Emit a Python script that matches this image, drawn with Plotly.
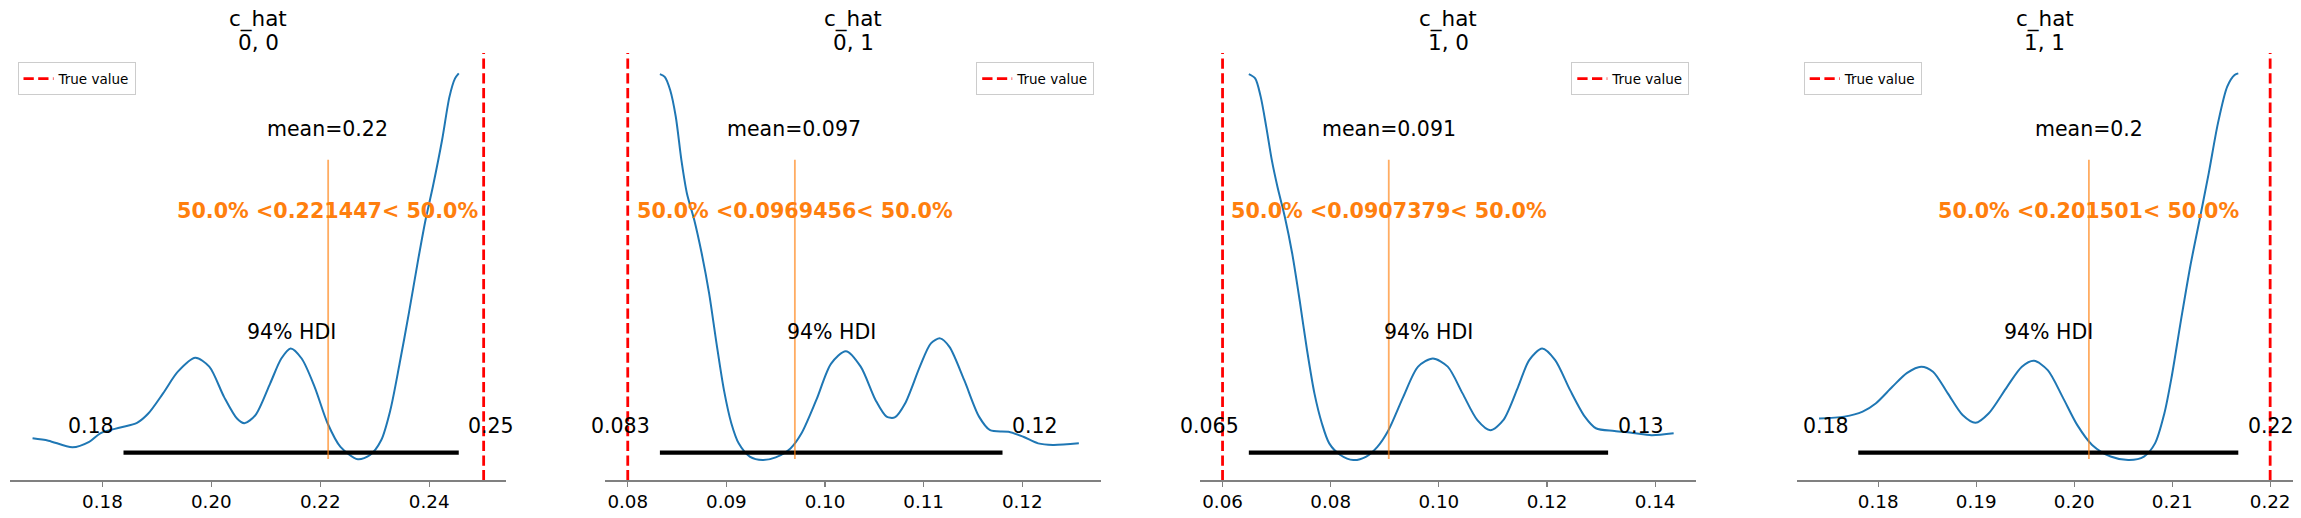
import plotly.graph_objects as go

W, H = 2301, 518
FONT = "DejaVu Sans"

# ---------------- data ----------------
var_name = "c_hat"
coords = ["0, 0", "0, 1", "1, 0", "1, 1"]
true_values = [0.25, 0.08, 0.06, 0.22]
ref_values = [0.221447, 0.0969456, 0.0907379, 0.201501]
mean_values = [0.2214, 0.0969, 0.0907, 0.2015]
hdi_low = [0.18387, 0.08326, 0.06486, 0.17796]
hdi_high = [0.24543, 0.11800, 0.13130, 0.21675]
hdi_prob = 94

kde_x_00 = [0.16717, 0.17009, 0.17450, 0.17756, 0.17961, 0.18328, 0.18635, 0.18842, 0.19113,
            0.19385, 0.19704, 0.19962, 0.20233, 0.20471, 0.20606, 0.20810, 0.21081, 0.21285,
            0.21455, 0.21658, 0.21896, 0.22134, 0.22371, 0.22690, 0.22914, 0.23118, 0.23287,
            0.23457, 0.23627, 0.23796, 0.23932, 0.24068, 0.24237, 0.24373, 0.24475, 0.24543]
kde_y_00 = [0.057, 0.051, 0.034, 0.048, 0.070, 0.085, 0.097, 0.121, 0.173,
            0.229, 0.265, 0.242, 0.164, 0.108, 0.096, 0.117, 0.199, 0.263,
            0.289, 0.263, 0.190, 0.096, 0.035, 0.003, 0.014, 0.052, 0.130,
            0.250, 0.380, 0.517, 0.620, 0.707, 0.827, 0.939, 0.986, 0.999]

kde_x_01 = [0.08326, 0.08375, 0.08430, 0.08487, 0.08544, 0.08600, 0.08675, 0.08750, 0.08825,
            0.08900, 0.08975, 0.09050, 0.09125, 0.09237, 0.09368, 0.09500, 0.09650, 0.09762,
            0.09912, 0.10062, 0.10212, 0.10362, 0.10512, 0.10624, 0.10707, 0.10812, 0.10962,
            0.11074, 0.11168, 0.11262, 0.11412, 0.11562, 0.11674, 0.11861, 0.12011, 0.12161,
            0.12311, 0.12574]
kde_y_01 = [0.997, 0.990, 0.956, 0.887, 0.775, 0.689, 0.620, 0.534, 0.431,
            0.302, 0.182, 0.096, 0.044, 0.010, 0.001, 0.008, 0.031, 0.070,
            0.156, 0.250, 0.282, 0.242, 0.156, 0.113, 0.111, 0.147, 0.242,
            0.302, 0.315, 0.293, 0.207, 0.113, 0.078, 0.074, 0.061, 0.044,
            0.040, 0.044]

kde_x_10 = [0.06486, 0.06603, 0.06705, 0.06808, 0.06911, 0.07014, 0.07151, 0.07288, 0.07425,
            0.07562, 0.07699, 0.07836, 0.07973, 0.08178, 0.08418, 0.08658, 0.08863, 0.09068,
            0.09342, 0.09616, 0.09890, 0.10164, 0.10438, 0.10712, 0.10952, 0.11192, 0.11466,
            0.11671, 0.11911, 0.12151, 0.12425, 0.12699, 0.12904, 0.13247, 0.13589, 0.13932,
            0.14342]
kde_y_10 = [0.997, 0.986, 0.939, 0.861, 0.775, 0.707, 0.629, 0.534, 0.414,
            0.285, 0.173, 0.096, 0.044, 0.014, 0.001, 0.010, 0.035, 0.078,
            0.164, 0.242, 0.263, 0.242, 0.173, 0.104, 0.078, 0.104, 0.190,
            0.259, 0.289, 0.259, 0.182, 0.113, 0.083, 0.076, 0.071, 0.065,
            0.070]

kde_x_11 = [0.17396, 0.17653, 0.17841, 0.17974, 0.18144, 0.18295, 0.18438, 0.18559, 0.18710,
            0.18861, 0.18993, 0.19126, 0.19315, 0.19466, 0.19590, 0.19730, 0.19881, 0.20032,
            0.20183, 0.20372, 0.20561, 0.20712, 0.20825, 0.20920, 0.20995, 0.21090, 0.21184,
            0.21279, 0.21373, 0.21467, 0.21562, 0.21637, 0.21675]
kde_y_11 = [0.108, 0.113, 0.126, 0.147, 0.190, 0.226, 0.242, 0.229, 0.173,
            0.117, 0.097, 0.121, 0.190, 0.242, 0.257, 0.233, 0.164, 0.091,
            0.040, 0.010, 0.001, 0.010, 0.044, 0.121, 0.216, 0.362, 0.500,
            0.620, 0.741, 0.870, 0.965, 0.995, 0.999]

tick_vals_00 = [0.18, 0.20, 0.22, 0.24]
tick_vals_01 = [0.08, 0.09, 0.10, 0.11, 0.12]
tick_vals_10 = [0.06, 0.08, 0.10, 0.12, 0.14]
tick_vals_11 = [0.18, 0.19, 0.20, 0.21, 0.22]

kde_x = [kde_x_00, kde_x_01, kde_x_10, kde_x_11]
kde_y = [kde_y_00, kde_y_01, kde_y_10, kde_y_11]
tick_vals = [tick_vals_00, tick_vals_01, tick_vals_10, tick_vals_11]

# ---------------- layout geometry (pixels) ----------------
axes_left_px = [10.0, 605.2, 1200.0, 1796.5]
axes_width_px = 496.2
axes_top_px, axes_bottom_px = 53.0, 480.4
legend_pos = [(17.5, "left"), (1094.2, "right"), (1689.3, "right"), (1803.7, "left")]
legend_top_px = 62.3
Y_LO, Y_HI = -0.0516, 1.0516

C0, C1 = "#1f77b4", "#ff7f0e"

fig = go.Figure()
annotations = []
layout_extra = {}

for i in range(4):
    n = "" if i == 0 else str(i + 1)
    xa, ya = "x" + n, "y" + n
    leg = "legend" + n
    xs, ys = kde_x[i], kde_y[i]
    tv = true_values[i]

    # KDE
    fig.add_trace(go.Scatter(x=xs, y=ys, mode="lines", xaxis=xa, yaxis=ya,
                             line=dict(color=C0, width=2, shape="spline", smoothing=0.8),
                             showlegend=False, hoverinfo="skip"))
    # HDI bar
    fig.add_trace(go.Scatter(x=[hdi_low[i], hdi_high[i]], y=[0.02, 0.02], mode="lines",
                             xaxis=xa, yaxis=ya, line=dict(color="black", width=4.3),
                             showlegend=False, hoverinfo="skip"))
    # reference (median) line
    y_span = Y_HI - Y_LO
    fig.add_trace(go.Scatter(x=[ref_values[i], ref_values[i]],
                             y=[Y_LO + 0.05 * y_span, Y_LO + 0.75 * y_span], mode="lines",
                             xaxis=xa, yaxis=ya, opacity=0.65,
                             line=dict(color=C1, width=1.8),
                             showlegend=False, hoverinfo="skip"))
    # true value
    fig.add_trace(go.Scatter(x=[tv, tv], y=[Y_LO, Y_HI], mode="lines", xaxis=xa, yaxis=ya,
                             line=dict(color="#ff0000", width=2.8, dash="10.3px,4.4px"),
                             name="True value", legend=leg, showlegend=True, hoverinfo="skip"))

    # axes
    xmin = min(xs[0], tv)
    xmax = max(xs[-1], tv)
    pad = 0.05 * (xmax - xmin)
    x0 = axes_left_px[i] / W
    x1 = (axes_left_px[i] + axes_width_px) / W
    layout_extra["xaxis" + n] = dict(
        domain=[x0, x1], range=[xmin - pad, xmax + pad], anchor=ya,
        showgrid=False, zeroline=False, showline=True, linecolor="#808080", linewidth=1.1,
        ticks="outside", ticklen=5, tickwidth=1.1, tickcolor="#808080",
        tickvals=tick_vals[i], tickformat=".2f",
        tickfont=dict(family=FONT, size=18.3, color="black"))
    layout_extra["yaxis" + n] = dict(
        domain=[(H - axes_bottom_px) / H, (H - axes_top_px) / H], range=[Y_LO, Y_HI],
        anchor=xa, visible=False, showgrid=False, zeroline=False)

    # legend
    lx, lanchor = legend_pos[i]
    layout_extra[leg] = dict(
        x=lx / W, y=1 - legend_top_px / H, xanchor=lanchor, yanchor="top",
        xref="paper", yref="paper",
        bgcolor="rgba(255,255,255,0.8)", bordercolor="#cccccc", borderwidth=1,
        font=dict(family=FONT, size=13.5, color="black"), itemwidth=30)

    # titles
    cx = (x0 + x1) / 2
    annotations.append(dict(text=var_name, x=cx, y=1 - 18.6 / H, xref="paper", yref="paper",
                            showarrow=False, xanchor="center", yanchor="middle",
                            font=dict(family=FONT, size=21.5, color="black")))
    annotations.append(dict(text=coords[i], x=cx, y=1 - 42.6 / H, xref="paper", yref="paper",
                            showarrow=False, xanchor="center", yanchor="middle",
                            font=dict(family=FONT, size=21.5, color="black")))

    tf = dict(family=FONT, size=20.5, color="black")
    # mean label
    annotations.append(dict(text=f"mean={mean_values[i]:.2g}", x=mean_values[i], y=0.855,
                            xref=xa, yref=ya, showarrow=False, xanchor="center",
                            yanchor="middle", font=tf))
    # ref label
    annotations.append(dict(text=f"50.0% <{ref_values[i]:g}< 50.0%", x=ref_values[i], y=0.645,
                            xref=xa, yref=ya, showarrow=False, xanchor="center",
                            yanchor="middle",
                            font=dict(family=FONT, size=20.7, color=C1, weight="bold")))
    # HDI label
    annotations.append(dict(text=f"{hdi_prob}% HDI", x=(hdi_low[i] + hdi_high[i]) / 2,
                            y=0.332, xref=xa, yref=ya, showarrow=False, xanchor="center",
                            yanchor="middle", font=tf))
    annotations.append(dict(text=f"{hdi_low[i]:.2g}", x=hdi_low[i], y=0.089, xref=xa,
                            yref=ya, showarrow=False, xanchor="right", xshift=-7.5,
                            yanchor="middle", font=tf))
    annotations.append(dict(text=f"{hdi_high[i]:.2g}", x=hdi_high[i], y=0.089, xref=xa,
                            yref=ya, showarrow=False, xanchor="left", xshift=7.5,
                            yanchor="middle", font=tf))

fig.update_layout(
    width=W, height=H, autosize=False,
    margin=dict(l=0, r=0, t=0, b=0, pad=0),
    paper_bgcolor="white", plot_bgcolor="white",
    font=dict(family=FONT),
    annotations=annotations,
    **layout_extra,
)

fig.write_html("out.html",
               config={"displayModeBar": False, "staticPlot": True},
               post_script="document.body.style.margin='0';document.body.style.overflow='hidden';")
